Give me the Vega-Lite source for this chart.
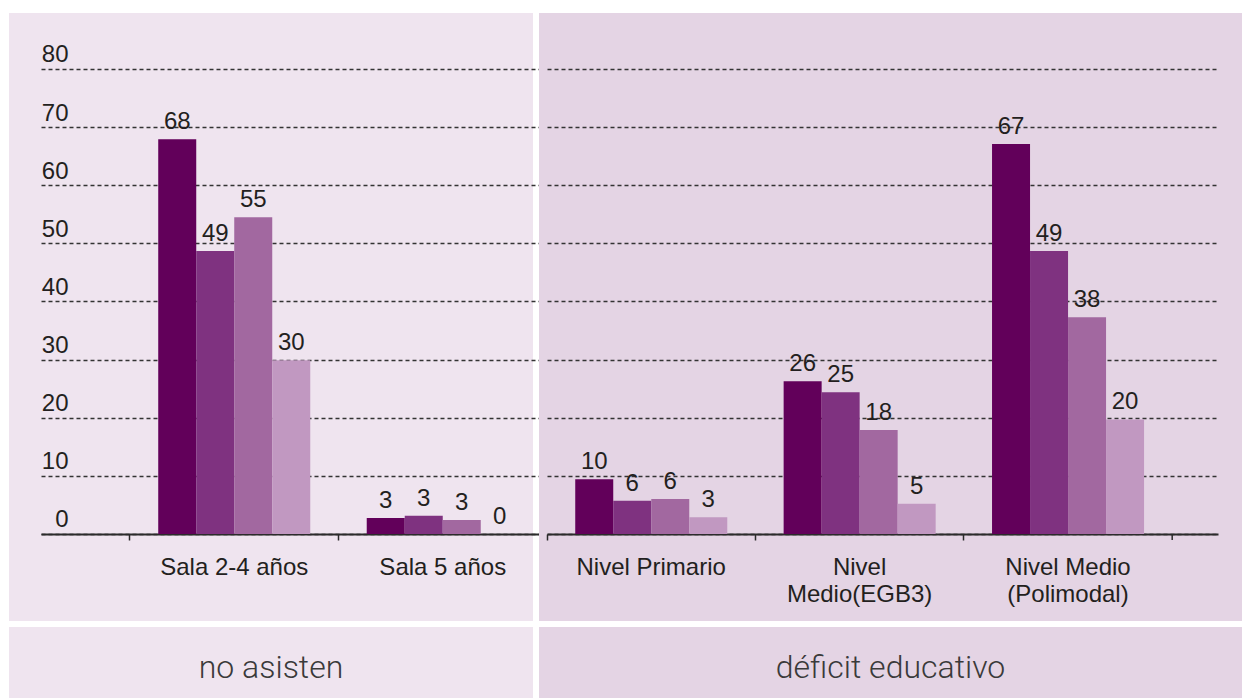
{
  "$schema": "https://vega.github.io/schema/vega-lite/v6.json",
  "background": "white",
  "padding": {"left": 9, "top": 13, "right": 0, "bottom": 0},
  "spacing": 6,
  "config": {
    "view": {"stroke": null},
    "font": "Liberation Sans"
  },
  "datasets": {
    "barras": [
      {"panel": "no asisten", "categoria": "Sala 2-4 años", "serie": "1", "valor": 67.9, "etiqueta": "68"},
      {"panel": "no asisten", "categoria": "Sala 2-4 años", "serie": "2", "valor": 48.7, "etiqueta": "49"},
      {"panel": "no asisten", "categoria": "Sala 2-4 años", "serie": "3", "valor": 54.5, "etiqueta": "55"},
      {"panel": "no asisten", "categoria": "Sala 2-4 años", "serie": "4", "valor": 29.9, "etiqueta": "30"},
      {"panel": "no asisten", "categoria": "Sala 5 años", "serie": "1", "valor": 2.75, "etiqueta": "3"},
      {"panel": "no asisten", "categoria": "Sala 5 años", "serie": "2", "valor": 3.15, "etiqueta": "3"},
      {"panel": "no asisten", "categoria": "Sala 5 años", "serie": "3", "valor": 2.4, "etiqueta": "3"},
      {"panel": "no asisten", "categoria": "Sala 5 años", "serie": "4", "valor": 0, "etiqueta": "0"},
      {"panel": "déficit educativo", "categoria": "Nivel Primario", "serie": "1", "valor": 9.4, "etiqueta": "10"},
      {"panel": "déficit educativo", "categoria": "Nivel Primario", "serie": "2", "valor": 5.7, "etiqueta": "6"},
      {"panel": "déficit educativo", "categoria": "Nivel Primario", "serie": "3", "valor": 6.0, "etiqueta": "6"},
      {"panel": "déficit educativo", "categoria": "Nivel Primario", "serie": "4", "valor": 2.9, "etiqueta": "3"},
      {"panel": "déficit educativo", "categoria": "Nivel Medio(EGB3)", "serie": "1", "valor": 26.3, "etiqueta": "26"},
      {"panel": "déficit educativo", "categoria": "Nivel Medio(EGB3)", "serie": "2", "valor": 24.4, "etiqueta": "25"},
      {"panel": "déficit educativo", "categoria": "Nivel Medio(EGB3)", "serie": "3", "valor": 17.9, "etiqueta": "18"},
      {"panel": "déficit educativo", "categoria": "Nivel Medio(EGB3)", "serie": "4", "valor": 5.2, "etiqueta": "5"},
      {"panel": "déficit educativo", "categoria": "Nivel Medio (Polimodal)", "serie": "1", "valor": 67.1, "etiqueta": "67"},
      {"panel": "déficit educativo", "categoria": "Nivel Medio (Polimodal)", "serie": "2", "valor": 48.7, "etiqueta": "49"},
      {"panel": "déficit educativo", "categoria": "Nivel Medio (Polimodal)", "serie": "3", "valor": 37.3, "etiqueta": "38"},
      {"panel": "déficit educativo", "categoria": "Nivel Medio (Polimodal)", "serie": "4", "valor": 19.7, "etiqueta": "20"}
    ]
  },
  "vconcat": [
    {
      "bounds": "flush",
      "spacing": 6,
      "hconcat": [
        {
          "width": 524,
          "height": 608,
          "view": {"fill": "#efe4ef", "stroke": null},
          "data": {"name": "barras"},
          "transform": [{"filter": "datum.panel == 'no asisten'"}],
          "layer": [
            {
              "mark": {"type": "bar"},
              "encoding": {
                "x": {
                  "field": "categoria", "type": "nominal",
                  "scale": {"domain": ["Sala 2-4 años", "Sala 5 años"], "range": [32, 538], "paddingInner": 0, "paddingOuter": 0.2134, "align": 1},
                  "axis": {
                    "title": null, "bandPosition": 0, "offset": -87,
                    "ticks": true, "tickSize": 6, "tickColor": "#2b2b2b", "tickWidth": 1.5,
                    "domain": true, "domainColor": "#2b2b2b", "domainWidth": 2,
                    "labelAngle": 0, "labelPadding": 15, "labelBaseline": "top",
                    "labelFont": "Liberation Sans", "labelFontSize": 24, "labelColor": "#231f20", "labelLineHeight": 27
                  }
                },
                "xOffset": {"field": "serie", "type": "nominal", "scale": {"paddingInner": 0, "paddingOuter": 0.743}},
                "y": {
                  "field": "valor", "type": "quantitative",
                  "scale": {"domain": [-14.968, 89.634], "nice": false, "zero": false},
                  "axis": {
                    "title": null, "values": [0, 10, 20, 30, 40, 50, 60, 70, 80],
                    "grid": true, "gridDash": [4, 3], "gridColor": "#333333", "gridWidth": 1.5, "gridOpacity": 1,
                    "domain": false, "ticks": false, "tickSize": 0,
                    "labelPadding": -59, "labelAlign": "right", "labelBaseline": "alphabetic", "labelOffset": -7,
                    "labelFont": "Liberation Sans", "labelFontSize": 24, "labelColor": "#231f20"
                  }
                },
                "color": {
                  "field": "serie", "type": "nominal", "legend": null,
                  "scale": {"domain": ["1", "2", "3", "4"], "range": ["#62005a", "#7f3280", "#a268a0", "#c198c1"]}
                }
              }
            },
            {
              "mark": {"type": "text", "baseline": "alphabetic", "dy": -10, "fontSize": 24, "color": "#231f20", "font": "Liberation Sans"},
              "encoding": {
                "x": {"field": "categoria", "type": "nominal"},
                "xOffset": {"field": "serie", "type": "nominal"},
                "y": {"field": "valor", "type": "quantitative"},
                "text": {"field": "etiqueta"}
              }
            }
          ]
        },
        {
          "width": 703,
          "height": 608,
          "view": {"fill": "#e4d4e4", "stroke": null},
          "layer": [
            {
              "data": {"name": "barras"},
              "transform": [{"filter": "datum.panel == 'déficit educativo'"}],
              "mark": {"type": "bar"},
              "encoding": {
                "x": {
                  "field": "categoria", "type": "nominal",
                  "scale": {"domain": ["Nivel Primario", "Nivel Medio(EGB3)", "Nivel Medio (Polimodal)"], "range": [8, 679], "paddingInner": 0, "paddingOuter": 0.1099, "align": 0},
                  "axis": {
                    "title": null, "bandPosition": 0, "offset": -87,
                    "ticks": true, "tickSize": 6, "tickColor": "#2b2b2b", "tickWidth": 1.5,
                    "domain": true, "domainColor": "#2b2b2b", "domainWidth": 2,
                    "labelAngle": 0, "labelPadding": 15, "labelBaseline": "top",
                    "labelFont": "Liberation Sans", "labelFontSize": 24, "labelColor": "#231f20", "labelLineHeight": 27,
                    "labelExpr": "datum.label == 'Nivel Medio(EGB3)' ? ['Nivel', 'Medio(EGB3)'] : datum.label == 'Nivel Medio (Polimodal)' ? ['Nivel Medio', '(Polimodal)'] : datum.label"
                  }
                },
                "xOffset": {"field": "serie", "type": "nominal", "scale": {"paddingInner": 0, "paddingOuter": 0.743}},
                "y": {
                  "field": "valor", "type": "quantitative",
                  "scale": {"domain": [-14.968, 89.634], "nice": false, "zero": false},
                  "axis": {
                    "title": null, "values": [0, 10, 20, 30, 40, 50, 60, 70, 80],
                    "grid": true, "gridDash": [4, 3], "gridColor": "#333333", "gridWidth": 1.5, "gridOpacity": 1,
                    "domain": false, "ticks": false, "labels": false
                  }
                },
                "color": {
                  "field": "serie", "type": "nominal", "legend": null,
                  "scale": {"domain": ["1", "2", "3", "4"], "range": ["#62005a", "#7f3280", "#a268a0", "#c198c1"]}
                }
              }
            },
            {
              "data": {"name": "barras"},
              "transform": [{"filter": "datum.panel == 'déficit educativo'"}],
              "mark": {"type": "text", "baseline": "alphabetic", "dy": -10, "fontSize": 24, "color": "#231f20", "font": "Liberation Sans"},
              "encoding": {
                "x": {"field": "categoria", "type": "nominal"},
                "xOffset": {"field": "serie", "type": "nominal"},
                "y": {"field": "valor", "type": "quantitative"},
                "text": {"field": "etiqueta"}
              }
            },
            {
              "data": {"values": [{"marca": "fin"}]},
              "mark": {"type": "rule", "color": "#2b2b2b", "strokeWidth": 1.5},
              "encoding": {
                "x": {"datum": "Nivel Medio (Polimodal)", "bandPosition": 1},
                "y": {"datum": 0},
                "y2": {"datum": -1.03}
              }
            }
          ]
        }
      ]
    },
    {
      "bounds": "flush",
      "spacing": 6,
      "hconcat": [
        {
          "width": 524,
          "height": 71,
          "view": {"fill": "#efe4ef", "stroke": null},
          "data": {"values": [{"grupo": "no asisten"}]},
          "mark": {"type": "text", "font": "Roboto", "fontWeight": 300, "fontSize": 32, "color": "#3a3a3a", "baseline": "middle", "dy": 5},
          "encoding": {"text": {"field": "grupo"}}
        },
        {
          "width": 703,
          "height": 71,
          "view": {"fill": "#e4d4e4", "stroke": null},
          "data": {"values": [{"grupo": "déficit educativo"}]},
          "mark": {"type": "text", "font": "Roboto", "fontWeight": 300, "fontSize": 32, "color": "#3a3a3a", "baseline": "middle", "dy": 5},
          "encoding": {"text": {"field": "grupo"}}
        }
      ]
    }
  ]
}
